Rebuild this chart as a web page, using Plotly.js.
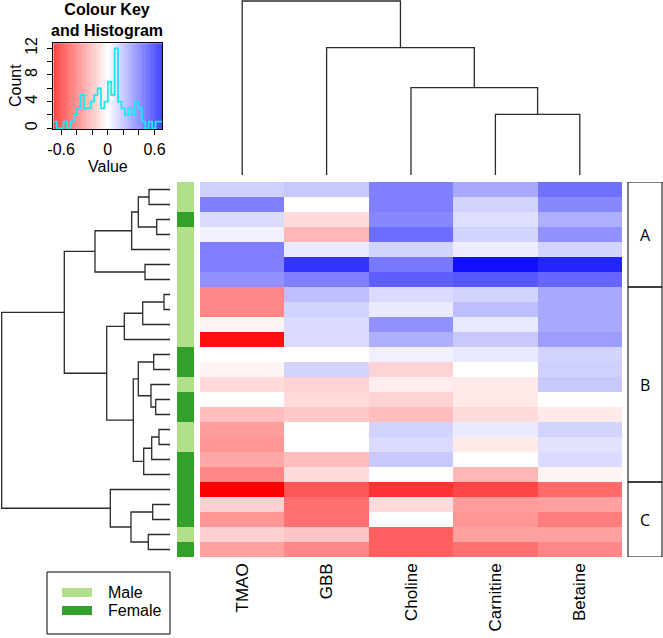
<!DOCTYPE html>
<html>
<head>
<meta charset="utf-8">
<script src="https://cdn.plot.ly/plotly-3.0.1.min.js"></script>
<style>
  html, body { margin: 0; padding: 0; background: #fff; }
  #plot { width: 663px; height: 638px; }
</style>
</head>
<body>
<div id="plot"></div>
<script>
// columns of the heatmap, in dendrogram order
const metabolites = ["TMAO", "GBB", "Choline", "Carnitine", "Betaine"];

// one value per row (top to bottom)
const tmao      = [0.13, 0.35, 0.10, 0.04, 0.35, 0.35, 0.30, -0.33, -0.33, -0.03, -0.66, 0.00, -0.03, -0.10, 0.00, -0.18, -0.27, -0.29, -0.24, -0.33, -0.70, -0.13, -0.29, -0.13, -0.26];
const gbb       = [0.15, 0.00, -0.10, -0.20, 0.06, 0.56, 0.35, 0.18, 0.12, 0.10, 0.10, 0.00, 0.12, -0.12, -0.10, -0.15, 0.00, 0.00, -0.18, -0.10, -0.46, -0.39, -0.39, -0.16, -0.33];
const choline   = [0.35, 0.35, 0.33, 0.40, 0.12, 0.37, 0.44, 0.10, 0.06, 0.30, 0.22, 0.04, -0.12, -0.05, -0.12, -0.18, 0.12, 0.10, 0.15, 0.00, -0.56, -0.10, 0.00, -0.44, -0.44];
const carnitine = [0.24, 0.12, 0.09, 0.12, 0.05, 0.66, 0.46, 0.12, 0.18, 0.06, 0.15, 0.06, 0.00, -0.06, -0.06, -0.10, 0.06, -0.06, 0.00, -0.20, -0.51, -0.27, -0.29, -0.26, -0.39];
const betaine   = [0.39, 0.33, 0.22, 0.30, 0.12, 0.60, 0.42, 0.24, 0.24, 0.24, 0.27, 0.12, 0.13, 0.15, 0.00, -0.06, 0.12, 0.08, 0.10, -0.03, -0.41, -0.26, -0.36, -0.26, -0.33];

// side colour bar
const sex = ["M","M","F","M","M","M","M","M","M","M","M","F","F","M","F","F","M","M","F","F","F","F","F","M","F"];
const sexLabels = ["Male", "Female"];

// row clusters on the right
const clusterNames = ["A", "B", "C"];
const clusterSizes = [7, 13, 5];

// row dendrogram (R hclust style: negative = leaf position, positive = earlier merge)
const rowMerge = [
  [-1, -2], [-3, -4], [1, 2], [3, -5], [-6, -7], [4, 5],
  [-8, -9], [7, -10], [8, -11],
  [-12, -13], [-15, -16], [-14, 11], [10, 12],
  [-17, -18], [14, -19], [15, -20], [13, 16], [9, 17], [6, 18],
  [-22, -23], [-24, -25], [20, 21], [-21, 22], [19, 23]
];
const rowHeights = [21, 13.3, 31.7, 38.3, 25, 75, 6, 27.3, 45.7, 16.3, 14.3, 19, 31.7,
  11, 18.3, 26.3, 36.7, 63.3, 105.7, 17.3, 21.7, 39, 59.7, 168.3];

// column dendrogram
const colMerge = [[-4, -5], [-3, 1], [-2, 2], [-1, 3]];
const colHeights = [60.7, 87.3, 127.3, 174];

// colour key histogram
const histMin = -0.7, histMax = 0.7;
const histCounts = [1, 0, 0, 1, 0, 1, 2, 3, 5, 3, 3, 4, 5, 6, 3, 4,
                    7, 5, 12, 4, 3, 2, 3, 2, 4, 3, 1, 0, 1, 0, 1, 1];

const W = 663, H = 638;
const px = x => x / W;
const py = y => 1 - y / H;
const FONT = "Liberation Sans, Arial, sans-serif";
const LIGHT = "#b2df8a", DARK = "#33a02c";
const redWhiteBlue = [[0, "#ff0000"], [0.5, "#ffffff"], [1, "#0000ff"]];

function dendro(merge, heights, sideways) {
  const pos = [], hh = [], xs = [], ys = [];
  merge.forEach((m, i) => {
    const ch = m.map(c => c < 0 ? { p: -c - 1, h: 0 } : { p: pos[c - 1], h: hh[c - 1] });
    const h = heights[i];
    const pts = [[ch[0].p, ch[0].h], [ch[0].p, h], [ch[1].p, h], [ch[1].p, ch[1].h]];
    pts.forEach(([p, v]) => {
      if (sideways) { xs.push(v); ys.push(p); } else { xs.push(p); ys.push(v); }
    });
    xs.push(null); ys.push(null);
    pos.push((ch[0].p + ch[1].p) / 2);
    hh.push(h);
  });
  return { xs, ys };
}

const z = tmao.map((v, i) => [tmao[i], gbb[i], choline[i], carnitine[i], betaine[i]]);

const heat = {
  type: "heatmap", z: z, x: metabolites.map((m, i) => i), y: z.map((r, i) => i),
  colorscale: redWhiteBlue, zmin: -0.7, zmax: 0.7, showscale: false,
  xaxis: "x", yaxis: "y", hoverinfo: "skip"
};

const side = {
  type: "heatmap", z: sex.map(s => [s === "M" ? 0 : 1]),
  x: [0], y: sex.map((s, i) => i),
  colorscale: [[0, LIGHT], [0.5, LIGHT], [0.5, DARK], [1, DARK]], zmin: 0, zmax: 1,
  showscale: false, xaxis: "x4", yaxis: "y", hoverinfo: "skip"
};

const rd = dendro(rowMerge, rowHeights, true);
const rowTree = {
  type: "scatter", mode: "lines", x: rd.xs, y: rd.ys,
  line: { color: "#2b2b2b", width: 1.3 }, xaxis: "x3", yaxis: "y3", hoverinfo: "skip"
};
const cd = dendro(colMerge, colHeights, false);
const colTree = {
  type: "scatter", mode: "lines", x: cd.xs, y: cd.ys,
  line: { color: "#2b2b2b", width: 1.3 }, xaxis: "x2", yaxis: "y2", hoverinfo: "skip"
};

// colour key: gradient behind the histogram
const nKey = 80;
const keyEdges = [], keyMid = [];
for (let i = 0; i <= nKey; i++) keyEdges.push(histMin + (histMax - histMin) * i / nKey);
for (let i = 0; i < nKey; i++) keyMid.push((keyEdges[i] + keyEdges[i + 1]) / 2);
const keyBg = {
  type: "heatmap", z: [keyMid], x: keyEdges, y: [-1, 14],
  colorscale: redWhiteBlue, zmin: -0.95, zmax: 0.95, showscale: false,
  xaxis: "x5", yaxis: "y5", hoverinfo: "skip"
};
const binW = (histMax - histMin) / histCounts.length;
const breaks = histCounts.map((c, i) => histMin + i * binW).concat([histMax]);
const hist = {
  type: "scatter", mode: "lines", x: breaks, y: histCounts.concat([histCounts[histCounts.length - 1]]),
  line: { color: "#19e8f2", width: 1.8, shape: "hv" }, xaxis: "x5", yaxis: "y5", hoverinfo: "skip"
};

const hidden = { visible: false, showgrid: false, zeroline: false, fixedrange: true };
const txt = (size, extra) => Object.assign({ showarrow: false, xanchor: "center", yanchor: "middle",
  font: { family: FONT, size: size, color: "#000" } }, extra);

const shapes = [];
const annotations = [];
let start = 0;
clusterNames.forEach((name, k) => {
  shapes.push({
    type: "rect", xref: "paper", yref: "y", x0: px(628), x1: px(662),
    y0: start - 0.5, y1: start + clusterSizes[k] - 0.5,
    line: { color: "#000", width: 1 }
  });
  annotations.push(txt(16, {
    xref: "paper", yref: "y", x: px(645), y: start + (clusterSizes[k] - 1) / 2, text: name,
    font: { family: "Open Sans, sans-serif", size: 16, color: "#000" }
  }));
  start += clusterSizes[k];
});

// legend box
shapes.push({ type: "rect", xref: "paper", yref: "paper", x0: px(47), x1: px(170), y0: py(634), y1: py(572),
  line: { color: "#000", width: 1 } });
[LIGHT, DARK].forEach((c, i) => {
  shapes.push({ type: "rect", xref: "paper", yref: "paper", x0: px(62), x1: px(92),
    y0: py(597 + i * 18), y1: py(588 + i * 18), fillcolor: c, line: { width: 0 } });
  annotations.push(txt(16, { xref: "paper", yref: "paper", x: px(106), y: py(592.5 + i * 18), xanchor: "left",
    text: sexLabels[i] }));
});

// colour key texts
annotations.push(txt(16, { xref: "paper", yref: "paper", x: px(107), y: py(20),
  text: "<b>Colour Key</b><br><b>and Histogram</b>" }));
annotations.push(txt(16, { xref: "paper", yref: "paper", x: px(15), y: py(86), textangle: -90, text: "Count" }));
annotations.push(txt(16, { xref: "paper", yref: "paper", x: px(108), y: py(166), text: "Value" }));

const layout = {
  width: W, height: H,
  margin: { l: 0, r: 0, t: 0, b: 0 },
  paper_bgcolor: "#fff", plot_bgcolor: "rgba(0,0,0,0)",
  showlegend: false,
  font: { family: FONT, size: 16, color: "#000" },
  xaxis: {
    domain: [px(200), px(622)], range: [-0.5, 4.5], anchor: "y",
    tickvals: metabolites.map((m, i) => i), ticktext: metabolites, tickangle: -90,
    ticks: "", ticklabelstandoff: 2, showgrid: false, zeroline: false, showline: false,
    tickfont: { family: FONT, size: 17, color: "#000" }
  },
  yaxis: Object.assign({ domain: [py(557), py(182)], range: [24.5, -0.5], anchor: "x" }, hidden),
  xaxis2: Object.assign({ domain: [px(200), px(622)], range: [-0.5, 4.5], anchor: "y2" }, hidden),
  yaxis2: Object.assign({ domain: [py(175), py(0)], range: [0, 175], anchor: "x2" }, hidden),
  xaxis3: Object.assign({ domain: [px(0), px(170)], range: [170, 0], anchor: "y3" }, hidden),
  yaxis3: Object.assign({ domain: [py(557), py(182)], range: [24.5, -0.5], anchor: "x3" }, hidden),
  xaxis4: Object.assign({ domain: [px(177), px(194)], range: [-0.5, 0.5], anchor: "y" }, hidden),
  xaxis5: {
    domain: [px(53.3), px(162.3)], range: [histMin, histMax], anchor: "y5",
    tickvals: [-0.6, -0.4, -0.2, 0, 0.2, 0.4, 0.6], ticktext: ["-0.6", "", "", "0", "", "", "0.6"],
    ticks: "outside", ticklen: 5, tickcolor: "#000", showline: true, mirror: true, linecolor: "#000", linewidth: 1,
    showgrid: false, zeroline: false, tickfont: { family: FONT, size: 16, color: "#000" }, ticklabelstandoff: 0
  },
  yaxis5: {
    domain: [py(129.3), py(43.3)], range: [-0.15, 12.75], anchor: "x5",
    tickvals: [0, 2, 4, 6, 8, 10, 12], ticktext: ["0", "", "4", "", "8", "", "12"], tickangle: -90,
    ticks: "outside", ticklen: 5, tickcolor: "#000", showline: true, mirror: true, linecolor: "#000", linewidth: 1,
    showgrid: false, zeroline: false, tickfont: { family: FONT, size: 16, color: "#000" }, ticklabelstandoff: 4
  },
  shapes: shapes,
  annotations: annotations
};

Plotly.newPlot("plot", [keyBg, hist, heat, side, rowTree, colTree], layout, { staticPlot: true, displayModeBar: false });
</script>
</body>
</html>
